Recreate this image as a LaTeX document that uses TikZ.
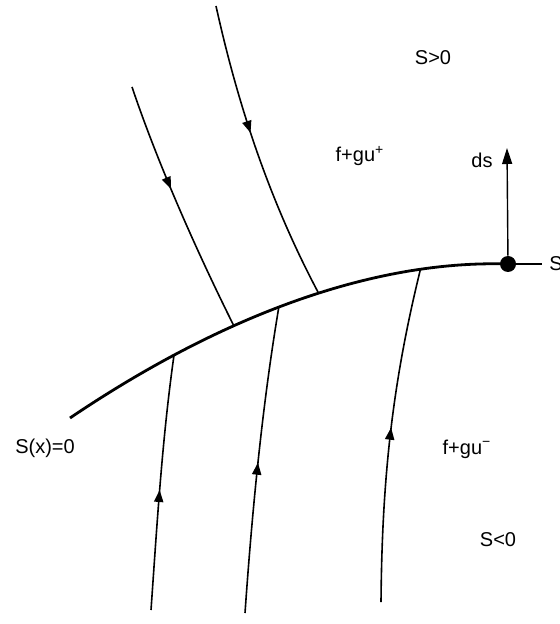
\documentclass[tikz,border=0pt]{standalone}
\usepackage{fontspec}
\setmainfont{Liberation Sans}
\usetikzlibrary{arrows.meta,decorations.markings,positioning}

\tikzset{
  traj/.style={line width=0.8pt},
  midarrow/.style={postaction={decorate},
    decoration={markings,mark=at position #1 with {\arrow{Triangle[length=6pt,width=4.6pt]}}}},
  lbl/.style={font=\fontsize{10}{12}\selectfont, inner sep=0pt},
}

\begin{document}
\begin{tikzpicture}[x=0.5pt,y=-0.5pt]
  \clip (0,0) rectangle (560,624);

  % switching surface S(x)=0
  \coordinate (c0) at (70,418);
  \node[circle, fill, inner sep=0pt, minimum size=8pt] (P) at (508,264) {};
  \coordinate (e) at (542,264);
  \draw[line width=1.4pt] (c0) .. controls (230,310) and (380,260) .. (P.center)
    coordinate[pos=0.22] (c1)
    coordinate[pos=0.35] (c2)
    coordinate[pos=0.45] (c3)
    coordinate[pos=0.54] (c4)
    coordinate[pos=0.78] (c5);
  \draw[line width=0.6pt] (P) -- (e);

  % trajectories above, f+gu+
  \coordinate (a1) at (132,87);
  \coordinate (a2) at (216,6);
  \draw[traj, midarrow=0.42] (a1) .. controls (159,167) and (199,256) .. (c2);
  \draw[traj, midarrow=0.43] (a2) .. controls (237,101) and (268,198) .. (c4);

  % trajectories below, f+gu-
  \coordinate (b1) at (151,610);
  \coordinate (b2) at (245,613);
  \coordinate (b3) at (381,602);
  \draw[traj, midarrow=0.47] (b1) .. controls (157,525) and (162,440) .. (c1);
  \draw[traj, midarrow=0.49] (b2) .. controls (252,513) and (262,407) .. (c3);
  \draw[traj, midarrow=0.52] (b3) .. controls (382,480) and (392,385) .. (c5);

  % normal
  \coordinate (n) at (507,148);
  \draw[line width=0.7pt, -{Triangle[length=8pt,width=5pt]}] (P) -- (n);

  % labels
  \node[lbl] (ds) at (482,160) {ds};
  \node[lbl] (pos) at (433,58) {S>0};
  \node[lbl] (neg) at (498,540) {S<0};
  \node[lbl] (fp) at (360,156) {f+gu\textsuperscript{+}};
  \node[lbl] (fm) at (467,449) {f+gu\textsuperscript{−}};
  \node[lbl] (sx) at (45,448) {S(x)=0};
  \node[lbl, anchor=west] (s) at (549,264) {S};
\end{tikzpicture}
\end{document}
